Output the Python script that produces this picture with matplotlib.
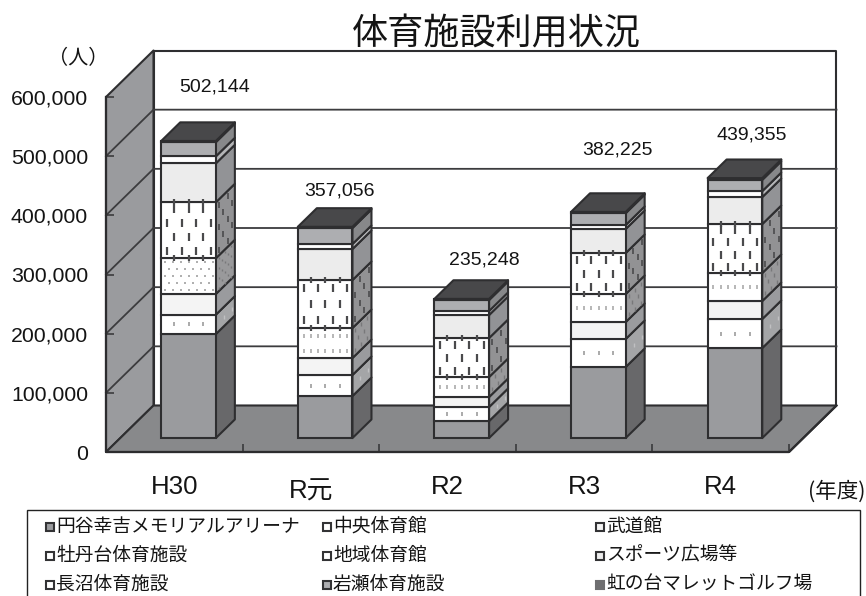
#!/usr/bin/python
"""
Sports facility use per fiscal year, drawn as an oblique 3D stacked bar chart.
"""

import numpy as np
import matplotlib
matplotlib.use('Agg')
import matplotlib.pyplot as plt
from matplotlib.patches import Polygon, Rectangle

plt.rcParams['font.family'] = ['Liberation Sans', 'Noto Sans CJK JP']

# data, one list per facility group, bottom to top
years = ['H30', 'R元', 'R2', 'R3', 'R4']
arena = [175800, 71000, 28700, 120000, 152100]
chuo = [32700, 35500, 23700, 47300, 49000]
budokan = [35000, 28700, 16900, 28700, 30400]
botandai = [60300, 50700, 33800, 47300, 47300]
chiiki = [94600, 81100, 65900, 69300, 82800]
sports = [65900, 52400, 38900, 40600, 45600]
naganuma = [11800, 8500, 6800, 6800, 10100]
iwase = [24000, 27000, 18500, 20000, 19000]
nijinodai = [2044, 2156, 2048, 2225, 3055]
yticks = [0, 100000, 200000, 300000, 400000, 500000, 600000]
legend_labels = ['円谷幸吉メモリアルアリーナ', '中央体育館', '武道館',
                 '牡丹台体育施設', '地域体育館', 'スポーツ広場等',
                 '長沼体育施設', '岩瀬体育施設', '虹の台マレットゴルフ場']

# pixel offsets of the total labels from the top of each bar
label_offsets = [(26, 54), (14, 36), (23, 39), (19, 62), (17, 43)]

series = [arena, chuo, budokan, botandai, chiiki, sports, naganuma, iwase,
          nijinodai]
front_colors = ['#9a9b9e', '#ffffff', '#f4f4f4', '#ffffff', '#ffffff',
                '#ececec', '#ffffff', '#adaeb1', '#48484a']
side_colors = ['#68686a', '#a4a5a7', '#9a9b9e', '#99999b', '#929294',
               '#929396', '#b4b5b7', '#87888a', '#48484a']
legend_colors = front_colors[:8] + ['#6e6e70']

W, H = 866, 596
X0, X1, Y0, Y1 = 106, 789, 452, 97  # front plane in pixels
PX = (X1 - X0) / 5.0  # pixels per category
PV = (Y0 - Y1) / 600000.0  # pixels per person
DX = 47.5 / PX  # full depth, in category units
DV = 46.5 / PV  # full depth, in persons
D0, D1 = 0.3, 0.7  # bar depth range
BAR = 0.40
EDGE = '#2e2e30'
INK = '#141414'


def proj(x, v, d):
    """Shift a point of the front plane back to depth d."""
    return x + d * DX, v + d * DV


def poly(ax, pts, fc, ec=EDGE, lw=1.5, z=1):
    """Add a polygon that may lie outside the axes box."""
    ax.add_patch(Polygon(pts, closed=True, facecolor=fc, edgecolor=ec,
                         linewidth=lw, joinstyle='round', zorder=z,
                         clip_on=False))


def front_marks(ax, x, v0, v1, starts, pitch, rowh, color, ms, mew,
                marker='|', edges=False):
    """Staggered marks on the front face of one segment."""
    left = proj(x - BAR / 2.0, 0, D0)[0]
    height = (v1 - v0) * PV
    n = max(int(height / rowh), 1)
    step = height / n
    xs, vs = [], []
    for i in range(n):
        for off in np.arange(starts[i % 2], BAR * PX - 2.0, pitch):
            xs.append(left + off / PX)
            vs.append(proj(0, v0 + (i + 0.5) * step / PV, D0)[1])
    ax.plot(xs, vs, ls='none', marker=marker, ms=ms, mew=mew, color=color,
            zorder=6, clip_on=False)
    if edges:
        xs = np.arange(starts[1], BAR * PX - 2.0, pitch)
        for v in (v0, v1):
            ax.plot(left + xs / PX, [proj(0, v, D0)[1]] * len(xs), ls='none',
                    marker='|', ms=ms * 0.75, mew=mew, color=color, zorder=6,
                    clip_on=False)


def side_marks(ax, x, v0, v1, starts, pitch, rowh, color, ms, mew):
    """Staggered marks on the sheared side face of one segment."""
    height = (v1 - v0) * PV
    n = max(int(height / rowh), 1)
    step = height / n
    xs, vs = [], []
    for i in range(n):
        for off in np.arange(starts[i % 2], 18.0, pitch):
            d = D0 + off / (DX * PX)
            px, pv = proj(x + BAR / 2.0, v0 + (i + 0.5) * step / PV, d)
            xs.append(px)
            vs.append(pv)
    ax.plot(xs, vs, ls='none', marker='|', ms=ms, mew=mew, color=color,
            zorder=6, clip_on=False)


def draw_frame(ax):
    """Draw side wall, back wall, floor and the grid lines."""
    poly(ax, [proj(0, 0, 1), proj(5, 0, 1), proj(5, 600000, 1),
              proj(0, 600000, 1)], 'white', z=1)
    poly(ax, [proj(0, 0, 0), proj(0, 0, 1), proj(0, 600000, 1),
              proj(0, 600000, 0)], '#9a9b9e', z=1)
    poly(ax, [proj(0, 0, 0), proj(5, 0, 0), proj(5, 0, 1), proj(0, 0, 1)],
         '#88898b', z=1)
    for v in yticks[1:-1]:
        xs, vs = zip(proj(0, v, 0), proj(0, v, 1), proj(5, v, 1))
        ax.plot(xs, vs, color='#3c3c3e', lw=1.3, zorder=1.5, clip_on=False)


def draw_bar(ax, i, x):
    """Draw the stacked segments of one bar."""
    bottom = 0
    for j, values in enumerate(series):
        top = bottom + values[i]
        fx, fv = proj(x, bottom, D0)
        bars = ax.bar(fx, values[i], BAR, bottom=fv, color=front_colors[j],
                      edgecolor=EDGE, linewidth=1.5, zorder=5)
        bars[0].set_clip_on(False)
        right = x + BAR / 2.0
        poly(ax, [proj(right, bottom, D0), proj(right, bottom, D1),
                  proj(right, top, D1), proj(right, top, D0)],
             side_colors[j], z=4)

        # hatching of the white segments
        if j == 1:
            front_marks(ax, x, bottom, top, (13, 13), 14.6, 40, '#a4a4a4', 3.5,
                        1.3)
            side_marks(ax, x, bottom, top, (8, 8), 8.0, 40, '#c0c0c2', 3, 1.0)
        elif j == 3:
            if i == 0:
                front_marks(ax, x, bottom, top, (4, 8), 8.0, 6, '#a8a8a8', 1.5,
                            1.3)
                side_marks(ax, x, bottom, top, (3, 6), 6.0, 5, '#78787a', 1.5,
                           1.0)
            else:
                front_marks(ax, x, bottom, top, (5.7, 5.7), 7.3, 14, '#aaaaaa',
                            3.5, 1.2)
                side_marks(ax, x, bottom, top, (3, 6), 6.0, 8, '#78787a', 2.5,
                           1.0)
        elif j == 4:
            front_marks(ax, x, bottom, top, (5.7, 13), 14.6, 12, '#4a4a4c', 6,
                        1.6, edges=True)
            side_marks(ax, x, bottom, top, (3, 7.5), 9.0, 10, '#505052', 5, 1.3)
        bottom = top

    # the roof takes the colour of the top series
    right, left = x + BAR / 2.0, x - BAR / 2.0
    poly(ax, [proj(left, bottom, D0), proj(right, bottom, D0),
              proj(right, bottom, D1), proj(left, bottom, D1)],
         '#48484a', z=5)


def draw_legend(over):
    """Draw the cut off legend box under the chart."""
    over.add_patch(Rectangle((26.5, 509.5), 833.5, 100, facecolor='white',
                             edgecolor='#222222', linewidth=1.0))
    cols = [46, 323, 596]
    rows = [527, 556, 585]
    for k, label in enumerate(legend_labels):
        x, y = cols[k % 3], rows[k // 3]
        ec = legend_colors[k] if k == 8 else '#333335'
        over.add_patch(Rectangle((x, y - 4), 7.5, 7.5,
                                 facecolor=legend_colors[k], edgecolor=ec,
                                 linewidth=1.5))
        over.text(x + 10, y, label, fontsize=13.5, va='center', ha='left',
                  color=INK)


def main():
    """Main program called upon execution."""
    fig = plt.figure(figsize=(W / 100.0, H / 100.0), dpi=100)
    ax = fig.add_axes([X0 / W, 1 - Y0 / H, (X1 - X0) / W, (Y0 - Y1) / H])
    ax.set_xlim(0, 5)
    ax.set_ylim(0, 600000)
    for spine in ax.spines.values():
        spine.set_visible(False)
    ax.patch.set_visible(False)

    draw_frame(ax)
    centers = np.arange(5) + 0.5
    for i, x in enumerate(centers):
        draw_bar(ax, i, x)
        total = sum(s[i] for s in series)
        ax.annotate('{:,}'.format(total), xy=proj(x, total, D0),
                    xytext=(label_offsets[i][0] * 0.72,
                            label_offsets[i][1] * 0.72),
                    textcoords='offset points', ha='center', va='center',
                    fontsize=14, color=INK, annotation_clip=False)

    # floor front edge on top of the wall outlines
    xs, vs = zip(proj(0, 600000, 0), proj(0, 0, 0), proj(5, 0, 0),
                 proj(5, 0, 1))
    ax.plot(xs, vs, color='#2c2c2e', lw=1.6, zorder=2, clip_on=False)

    # axes ticks and labels
    ax.set_yticks(yticks)
    ax.set_yticklabels(['{:,}'.format(v) for v in yticks], fontsize=15.3,
                       color=INK)
    ax.tick_params(axis='y', direction='in', length=5.5, width=1.1, pad=13,
                   color='#333335')
    ax.set_xticks(np.arange(6))
    ax.set_xticklabels([])
    ax.tick_params(axis='x', which='major', direction='in', length=5.5,
                   width=1.1, color='#333335')
    ax.set_xticks(centers, minor=True)
    ax.set_xticklabels(years, minor=True, fontsize=18.6, color=INK)
    ax.tick_params(axis='x', which='minor', length=0, pad=16.5)
    ax.xaxis.get_minor_ticks()[1].set_pad(20)

    # free text and legend live on a pixel overlay
    over = fig.add_axes([0, 0, 1, 1], zorder=3)
    over.set_xlim(0, W)
    over.set_ylim(H, 0)
    over.axis('off')
    over.text(496, 35, '体育施設利用状況', fontsize=26, ha='center', va='center',
              color=INK)
    over.text(78, 58, '（人）', fontsize=14.5, ha='center', va='center',
              color=INK)
    over.text(865, 492, '(年度)', fontsize=15.5, ha='right', va='center',
              color=INK, family=['Noto Sans CJK JP'])
    draw_legend(over)

    fig.savefig('out.png', dpi=100)


if __name__ == '__main__':
    main()
